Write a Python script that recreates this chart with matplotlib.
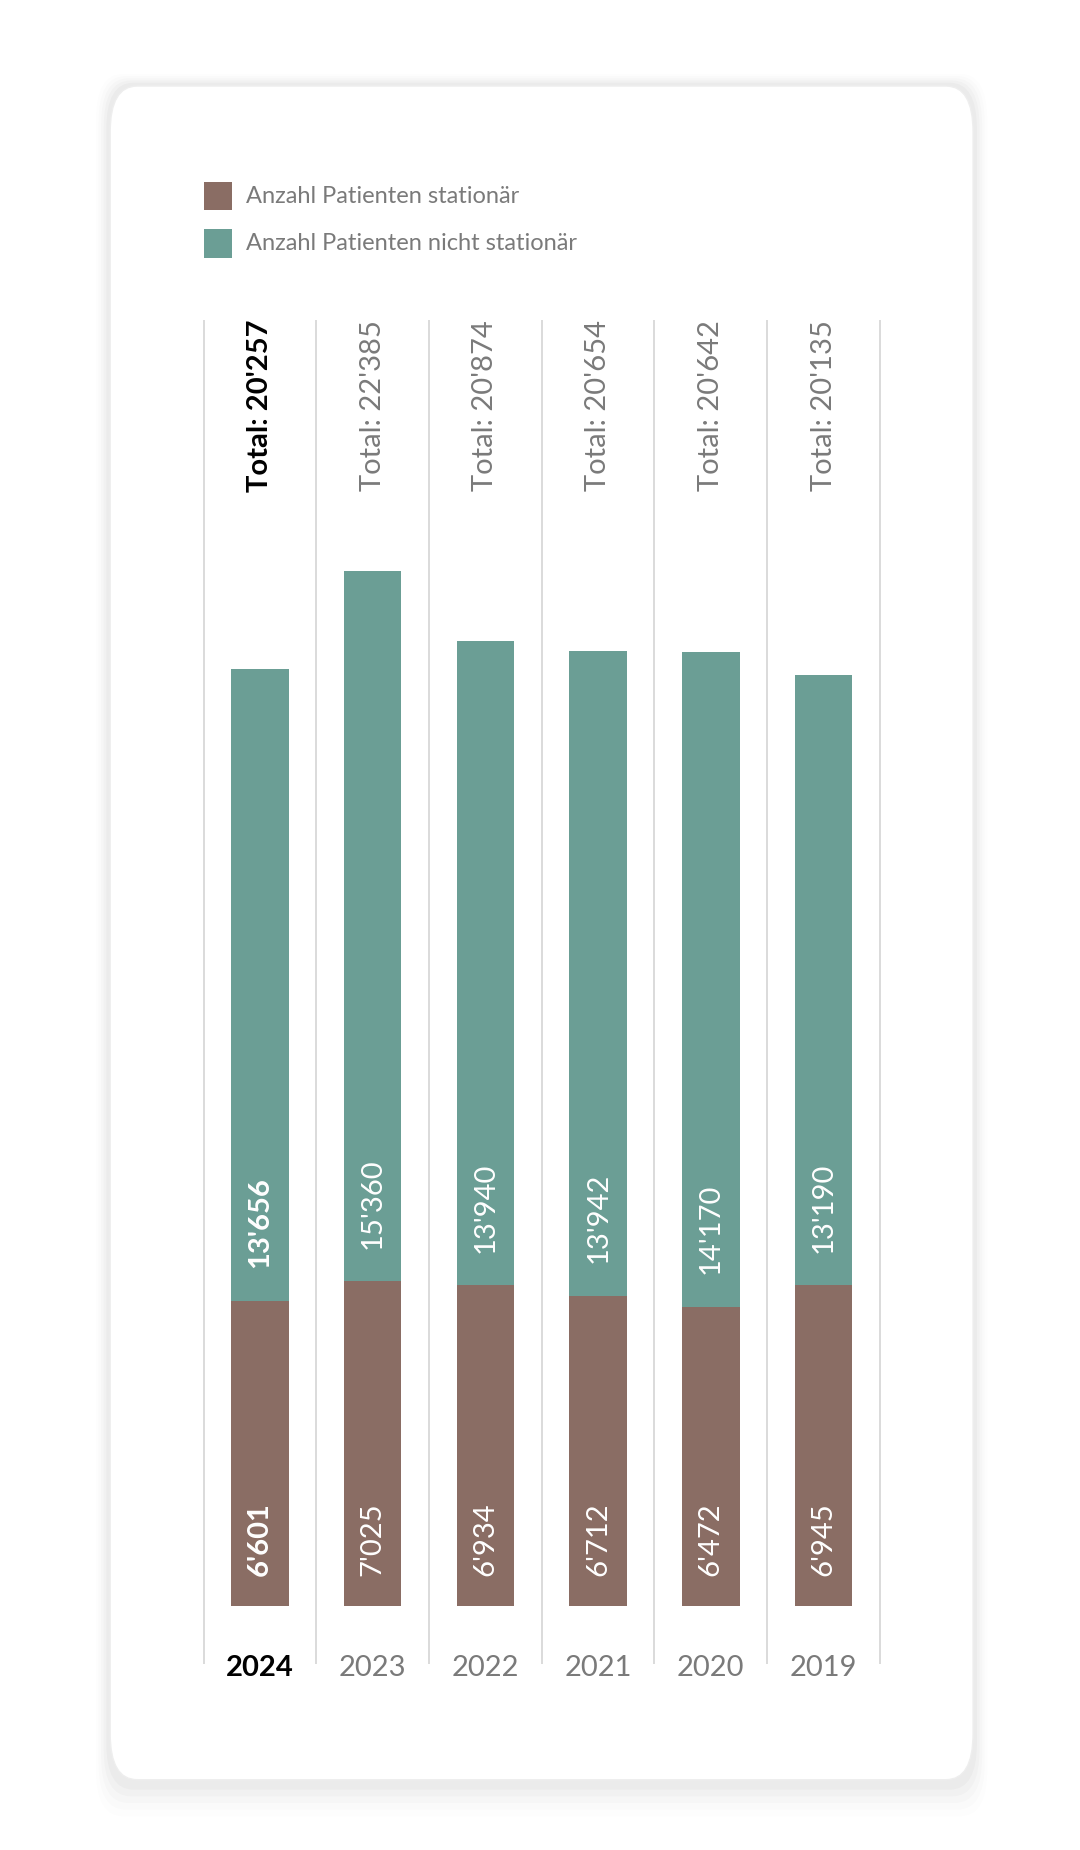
import matplotlib.pyplot as plt
from matplotlib.patches import FancyBboxPatch

years = ["2024", "2023", "2022", "2021", "2020", "2019"]
stationaer = [6601, 7025, 6934, 6712, 6472, 6945]
nicht_stationaer = [13656, 15360, 13940, 13942, 14170, 13190]
totals = ["20'257", "22'385", "20'874", "20'654", "20'642", "20'135"]
stat_labels = ["6'601", "7'025", "6'934", "6'712", "6'472", "6'945"]
nicht_labels = ["13'656", "15'360", "13'940", "13'942", "14'170", "13'190"]

BROWN = "#8a6d64"
TEAL = "#6b9e95"
GREY = "#7a7a7a"
FONT = "Lato"

fig = plt.figure(figsize=(10.8, 18.5), dpi=100)
fig.patch.set_facecolor("white")

# card with soft shadow
for i, a in enumerate([0.025, 0.02, 0.015, 0.01, 0.008]):
    g = 0.006 + i * 0.004
    fig.patches.append(FancyBboxPatch((0.102 - g * 0.6, 0.038 - g * 0.9), 0.799 + g * 1.2, 0.9155 + g * 1.2,
                                      boxstyle="round,pad=0,rounding_size=0.025", transform=fig.transFigure,
                                      facecolor="black", edgecolor="none", alpha=a, zorder=0))
fig.patches.append(FancyBboxPatch((0.102, 0.038), 0.799, 0.9155,
                                  boxstyle="round,pad=0,rounding_size=0.025", transform=fig.transFigure,
                                  facecolor="white", edgecolor="#eeeeee", zorder=1))

ax = fig.add_axes([0.1886, 0.1319, 0.6261, 0.6952])
ax.set_zorder(2)
ax.patch.set_visible(False)
ymax = 27818
ax.set_xlim(0, len(years))
ax.set_ylim(0, ymax)
ax.axis("off")

x = [i + 0.5 for i in range(len(years))]
ax.bar(x, stationaer, width=0.51, color=BROWN, zorder=3)
ax.bar(x, nicht_stationaer, bottom=stationaer, width=0.51, color=TEAL, zorder=3)
ax.vlines(range(len(years) + 1), -1255, ymax, color="#d4d4d4", lw=1.2, clip_on=False, zorder=1)

for i in range(len(years)):
    bold = "bold" if i == 0 else "normal"
    tc = "black" if i == 0 else GREY
    ax.text(x[i], ymax, "Total: " + totals[i], rotation=90, ha="center", va="top",
            fontsize=21, color=tc, fontweight=bold, family=FONT)
    ax.text(x[i], -1050, years[i], ha="center", va="top", fontsize=21, color=tc,
            fontweight=bold, family=FONT)
    ax.text(x[i], 650, stat_labels[i], rotation=90, ha="center", va="bottom",
            fontsize=21, color="white", fontweight=bold, family=FONT, zorder=4)
    ax.text(x[i], stationaer[i] + 700, nicht_labels[i], rotation=90, ha="center", va="bottom",
            fontsize=21, color="white", fontweight=bold, family=FONT, zorder=4)

# legend
for j, (lab, col) in enumerate([("Anzahl Patienten stationär", BROWN),
                                 ("Anzahl Patienten nicht stationär", TEAL)]):
    yc = 0.894 - j * 0.0256
    fig.patches.append(FancyBboxPatch((0.1886, yc - 0.0077), 0.0263, 0.0154, boxstyle="square,pad=0",
                                      transform=fig.transFigure, facecolor=col, edgecolor="none", zorder=3))
    fig.text(0.228, yc, lab, va="center", ha="left", fontsize=17, color=GREY, family=FONT, zorder=3)

fig.savefig("out.png", dpi=100, facecolor="white")
